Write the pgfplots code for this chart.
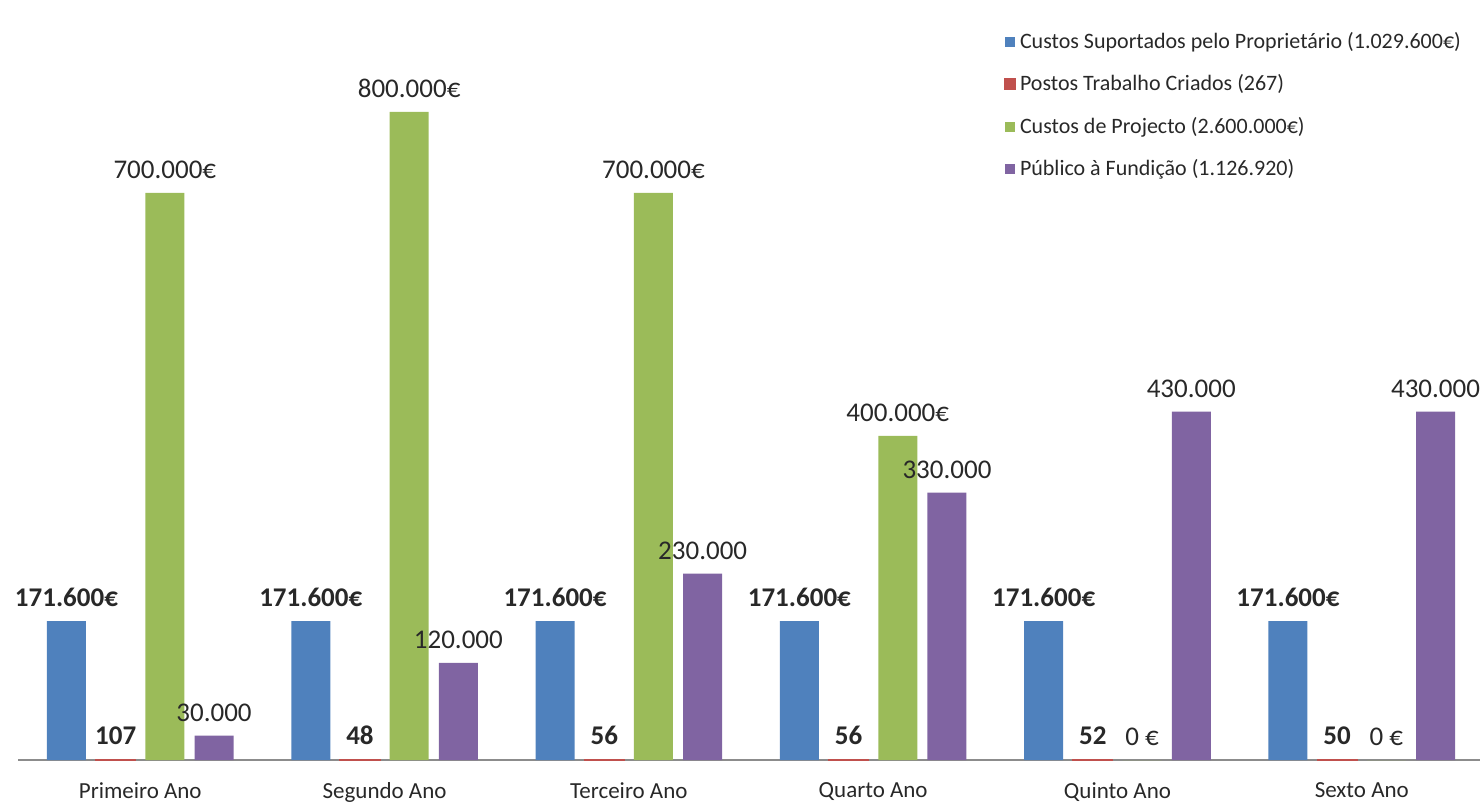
\documentclass[border=0pt]{standalone}
\usepackage{fontspec}
\setmainfont{Carlito}
\usepackage{pgfplots}
\pgfplotsset{compat=1.18}
\definecolor{cblue}{RGB}{79,129,189}
\definecolor{cred}{RGB}{192,80,77}
\definecolor{cgreen}{RGB}{155,187,89}
\definecolor{cpurple}{RGB}{128,100,162}
\definecolor{txt}{RGB}{40,40,40}
\begin{document}
\begin{tikzpicture}
\begin{axis}[
  scale only axis, width=730.95bp, height=380bp,
  xmin=-0.5, xmax=5.484, ymin=0, ymax=938272,
  ybar=5.1bp, bar width=19.5bp,
  axis x line*=bottom, axis y line=none,
  x axis line style={-, draw=gray!90, line width=0.75bp},
  xtick={0,...,5},
  xticklabels={Primeiro Ano, Segundo Ano, Terceiro Ano, Quarto Ano, Quinto Ano, Sexto Ano},
  major tick length=0pt,
  xticklabel style={font=\fontsize{11.5bp}{13bp}\selectfont, text=txt, inner sep=0pt, anchor=north, yshift=-11bp},
  ytick=\empty,
  clip=false,
  /pgf/number format/assume math mode=true,
  legend style={at={(0.674,0.963)}, anchor=north west, draw=none, fill=none,
    font=\fontsize{11bp}{12bp}\selectfont, text=txt, row sep=7.6bp, inner sep=0pt},
  legend cell align=left,
  legend image code/.code={\fill[#1] (0bp,-2.5bp) rectangle (5bp,2.5bp);},
]
\addplot[fill=cblue, draw=none,
  nodes near coords={\pgfmathprintnumber[fixed,precision=0,1000 sep={.}]{\pgfplotspointmeta}€},
  every node near coord/.append style={font=\bfseries\fontsize{13.5bp}{15bp}\selectfont, text=txt, inner sep=0pt, anchor=south, yshift=7bp}]
  coordinates {(0,171600) (1,171600) (2,171600) (3,171600) (4,171600) (5,171600)};
\addlegendentry{Custos Suportados pelo Proprietário (1.029.600€)}
\addplot[fill=cred, draw=cred, line width=1.1bp,
  nodes near coords={\pgfmathprintnumber[fixed,precision=0,1000 sep={.}]{\pgfplotspointmeta}},
  every node near coord/.append style={font=\bfseries\fontsize{13.5bp}{15bp}\selectfont, text=txt, inner sep=0pt, anchor=south, yshift=7bp}]
  coordinates {(0,107) (1,48) (2,56) (3,56) (4,52) (5,50)};
\addlegendentry{Postos Trabalho Criados (267)}
\addplot[fill=cgreen, draw=none, point meta=explicit symbolic,
  nodes near coords,
  every node near coord/.append style={font=\fontsize{13.5bp}{15bp}\selectfont, text=txt, inner sep=0pt, anchor=south, yshift=7bp}]
  coordinates {(0,700000)[700.000€] (1,800000)[800.000€] (2,700000)[700.000€] (3,400000)[400.000€] (4,0)[0 €] (5,0)[0 €]};
\addlegendentry{Custos de Projecto (2.600.000€)}
\addplot[fill=cpurple, draw=none,
  nodes near coords={\pgfmathprintnumber[fixed,precision=0,1000 sep={.}]{\pgfplotspointmeta}},
  every node near coord/.append style={font=\fontsize{13.5bp}{15bp}\selectfont, text=txt, inner sep=0pt, anchor=south, yshift=7bp}]
  coordinates {(0,30000) (1,120000) (2,230000) (3,330000) (4,430000) (5,430000)};
\addlegendentry{Público à Fundição (1.126.920)}
\end{axis}
\pgfresetboundingbox
\useasboundingbox ([xshift=-9.05bp,yshift=-21bp]current axis.south west) rectangle ++(740bp,401bp);
\end{tikzpicture}
\end{document}
